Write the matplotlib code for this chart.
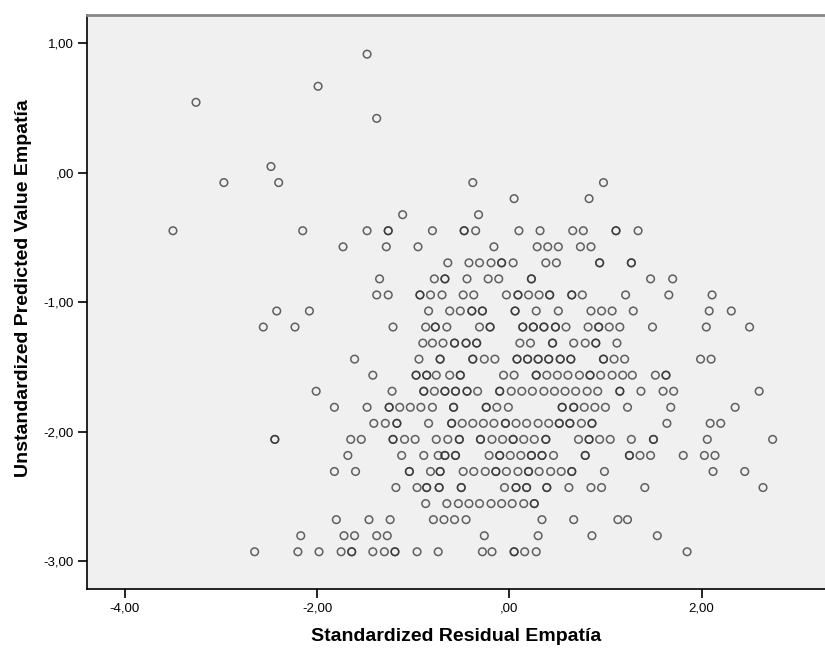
import matplotlib
matplotlib.use("Agg")
import matplotlib.pyplot as plt
import numpy as np

# predicted value levels (y) and the residuals (x) found at each level
y_levels = [0.916, 0.668, 0.544, 0.420, 0.048, -0.076, -0.200, -0.324, -0.448,
            -0.572, -0.696, -0.820, -0.944, -1.068, -1.192, -1.316, -1.440,
            -1.564, -1.688, -1.812, -1.936, -2.060, -2.184, -2.308, -2.432,
            -2.556, -2.680, -2.804, -2.928]

x_rows = [
    [-1.48],
    [-1.99],
    [-3.26],
    [-1.38],
    [-2.48],
    [-2.97, -2.40, -0.38, 0.98],
    [0.05, 0.83],
    [-1.11, -0.32],
    [-3.50, -2.15, -1.48, -1.26, -1.26, -0.80, -0.47, -0.47, -0.35, 0.10, 0.32,
     0.66, 0.77, 1.11, 1.11, 1.34],
    [-1.73, -1.28, -0.95, -0.16, 0.29, 0.40, 0.51, 0.74, 0.85],
    [-0.64, -0.42, -0.31, -0.19, -0.08, -0.08, 0.04, 0.38, 0.49, 0.94, 0.94,
     1.27, 1.27],
    [-1.35, -0.78, -0.67, -0.67, -0.44, -0.22, -0.11, 0.23, 0.23, 1.47, 1.70],
    [-1.38, -1.26, -0.93, -0.93, -0.82, -0.70, -0.48, -0.37, -0.03, 0.09, 0.09,
     0.20, 0.31, 0.42, 0.42, 0.65, 0.65, 0.76, 1.21, 1.66, 2.11],
    [-2.42, -2.08, -0.84, -0.62, -0.51, -0.39, -0.39, -0.28, -0.28, 0.06, 0.06,
     0.28, 0.51, 0.85, 0.96, 1.07, 1.29, 2.08, 2.31],
    [-2.56, -2.23, -1.21, -0.87, -0.77, -0.77, -0.65, -0.31, -0.20, -0.20, 0.14,
     0.14, 0.25, 0.25, 0.36, 0.36, 0.48, 0.48, 0.59, 0.82, 0.93, 0.93, 1.04,
     1.15, 1.49, 2.05, 2.50],
    [-0.90, -0.80, -0.69, -0.57, -0.57, -0.45, -0.45, -0.34, -0.34, 0.11, 0.22,
     0.45, 0.45, 0.67, 0.79, 0.90, 0.90, 1.12],
    [-1.61, -0.94, -0.72, -0.72, -0.38, -0.38, -0.26, -0.15, 0.08, 0.08, 0.19,
     0.19, 0.30, 0.30, 0.41, 0.41, 0.53, 0.53, 0.64, 0.64, 0.98, 0.98, 1.09,
     1.20, 1.99, 2.10],
    [-1.42, -0.97, -0.97, -0.86, -0.86, -0.76, -0.62, -0.51, -0.51, -0.06, 0.05,
     0.28, 0.28, 0.39, 0.50, 0.61, 0.73, 0.84, 0.84, 0.95, 1.07, 1.18, 1.28,
     1.52, 1.63, 1.63],
    [-2.01, -1.22, -0.89, -0.89, -0.78, -0.67, -0.67, -0.56, -0.56, -0.44, -0.44,
     -0.33, -0.10, -0.10, 0.02, 0.13, 0.24, 0.36, 0.47, 0.58, 0.69, 0.81, 0.92,
     1.15, 1.15, 1.37, 1.60, 1.71, 2.60],
    [-1.82, -1.48, -1.25, -1.25, -1.14, -1.03, -0.92, -0.80, -0.58, -0.58, -0.24,
     -0.24, -0.13, -0.01, 0.55, 0.55, 0.67, 0.67, 0.78, 0.89, 1.00, 1.23, 1.68,
     2.35],
    [-1.41, -1.29, -1.17, -1.17, -0.84, -0.60, -0.60, -0.49, -0.38, -0.27, -0.16,
     -0.04, -0.04, 0.07, 0.18, 0.30, 0.41, 0.52, 0.52, 0.63, 0.63, 0.75, 0.86,
     0.86, 1.64, 2.09, 2.20],
    [-2.44, -2.44, -1.65, -1.54, -1.21, -1.21, -1.09, -0.98, -0.76, -0.64, -0.52,
     -0.52, -0.30, -0.30, -0.18, -0.07, 0.04, 0.04, 0.15, 0.26, 0.38, 0.38, 0.72,
     0.83, 0.83, 0.94, 1.05, 1.27, 1.50, 1.50, 2.06, 2.74],
    [-1.68, -1.12, -0.89, -0.74, -0.67, -0.67, -0.56, -0.56, -0.21, -0.10, -0.10,
     0.01, 0.12, 0.23, 0.23, 0.34, 0.34, 0.46, 0.79, 0.79, 1.25, 1.25, 1.36,
     1.47, 1.81, 2.03, 2.14],
    [-1.82, -1.60, -1.04, -1.04, -0.82, -0.72, -0.72, -0.48, -0.37, -0.25, -0.14,
     -0.14, -0.03, 0.09, 0.20, 0.20, 0.31, 0.43, 0.54, 0.65, 0.65, 0.99, 2.12,
     2.45],
    [-1.18, -0.96, -0.86, -0.86, -0.73, -0.73, -0.50, -0.50, -0.05, 0.07, 0.07,
     0.18, 0.18, 0.39, 0.39, 0.62, 0.85, 0.96, 1.41, 2.64],
    [-0.87, -0.65, -0.53, -0.42, -0.31, -0.19, -0.08, 0.03, 0.15, 0.26, 0.26],
    [-1.80, -1.46, -1.24, -0.79, -0.68, -0.57, -0.45, 0.34, 0.67, 1.13, 1.23],
    [-2.17, -1.72, -1.61, -1.38, -1.27, -0.26, 0.30, 0.86, 1.54],
    [-2.65, -2.20, -1.98, -1.75, -1.64, -1.64, -1.42, -1.30, -1.19, -1.19, -0.96,
     -0.74, -0.28, -0.18, 0.05, 0.05, 0.16, 0.28, 1.85],
]

x_ticks = [-4, -2, 0, 2]
x_ticklabels = ["-4,00", "-2,00", ",00", "2,00"]
y_ticks = [1, 0, -1, -2, -3]
y_ticklabels = ["1,00", ",00", "-1,00", "-2,00", "-3,00"]

resid = []
pred = []
for lev, row in zip(y_levels, x_rows):
    resid.extend(row)
    pred.extend([lev] * len(row))

plt.rcParams['font.family'] = ['Liberation Sans', 'DejaVu Sans']

fig = plt.figure(figsize=(8.25, 6.5), dpi=100)
ax = fig.add_axes([0.1055, 0.0938, 0.8945, 0.8836])
ax.set_facecolor("#f0f0f0")

ax.scatter(resid, pred, s=30, marker="o", facecolors="none",
           edgecolors="#303030", linewidths=1.1, alpha=0.75, zorder=3)

ax.set_xlim(-4.394, 3.285)
ax.set_ylim(-3.216, 1.221)
ax.set_xticks(x_ticks)
ax.set_xticklabels(x_ticklabels)
ax.set_yticks(y_ticks)
ax.set_yticklabels(y_ticklabels)
ax.tick_params(direction="out", length=6.5, width=1.2, labelsize=9.5, pad=3)

ax.spines["right"].set_visible(False)
ax.spines["top"].set_color("#888888")
ax.spines["top"].set_linewidth(2)
ax.spines["left"].set_linewidth(1.2)
ax.spines["bottom"].set_linewidth(1.2)

ax.set_xlabel("Standardized Residual Empatía", fontsize=14, fontweight="bold", labelpad=10)
ax.set_ylabel("Unstandardized Predicted Value Empatía", fontsize=14, fontweight="bold", labelpad=5)
ax.yaxis.set_label_coords(-0.075, 0.524)

fig.savefig("out.png", dpi=100)
